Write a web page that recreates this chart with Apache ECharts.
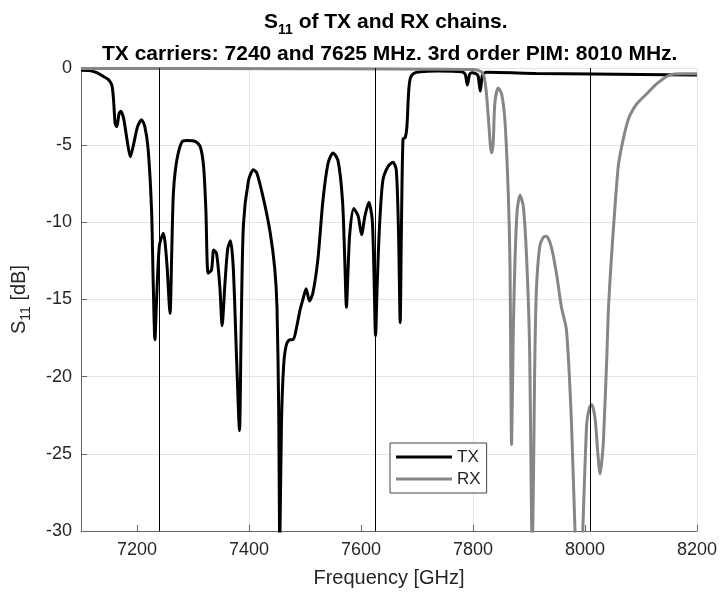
<!DOCTYPE html>
<html>
<head>
<meta charset="utf-8">
<title>S11 of TX and RX chains</title>
<script src="https://cdn.jsdelivr.net/npm/echarts@6/dist/echarts.min.js"></script>
<style>
  html, body { margin: 0; padding: 0; background: #fff; }
  #chart-container { width: 720px; height: 594px; }
</style>
</head>
<body>
<div id="chart-container"></div>
<script>
// values (MHz, dB)
var txFreq = [7100, 7115, 7128, 7140, 7149, 7155, 7158, 7161, 7164, 7168, 7171, 7176, 7182, 7188, 7193, 7201, 7208, 7214, 7220, 7226,
  7229, 7232, 7235, 7240, 7247, 7253, 7259, 7262, 7265, 7271, 7280, 7289, 7304, 7313, 7319, 7323, 7327, 7333, 7337, 7342,
  7348, 7352, 7357, 7362, 7367, 7372, 7378, 7383, 7386, 7390, 7399, 7408, 7414, 7426, 7438, 7446, 7450, 7453, 7455, 7458,
  7462, 7467, 7473, 7479, 7485, 7491, 7497, 7502, 7508, 7514, 7523, 7532, 7541, 7550, 7559, 7567, 7571, 7574, 7577, 7580,
  7587, 7595, 7601, 7607, 7614, 7620, 7623, 7626, 7629, 7633, 7639, 7648, 7657, 7663, 7667, 7670, 7672, 7675, 7679, 7682,
  7685, 7688, 7694, 7706, 7736, 7780, 7786, 7790, 7794, 7798, 7804, 7809, 7813, 7817, 7824, 7913, 8013, 8100, 8200];
var txS11 = [-0.15, -0.17, -0.3, -0.55, -0.75, -1.1, -2.0, -3.6, -3.8, -2.95, -2.8, -3.25, -4.6, -5.75, -5.1, -3.8, -3.35, -3.8, -5.3, -9.2,
  -14, -17.6, -15, -11.5, -10.7, -12.5, -15.9, -12, -8.1, -6.0, -4.8, -4.7, -4.75, -5.1, -6.4, -9.2, -13.3, -13.1, -11.8, -12.0,
  -14.2, -16.7, -14, -11.7, -11.2, -13, -19, -23.5, -17, -10.2, -7.3, -6.6, -6.8, -8.5, -10.7, -13, -15.5, -22, -31, -23,
  -19.2, -17.9, -17.6, -17.6, -16.8, -15.7, -14.9, -14.3, -15.1, -14.6, -12.4, -8.6, -6.2, -5.5, -6.0, -8.6, -12.4, -15.5, -13, -10.7,
  -9.1, -9.6, -10.8, -9.6, -8.7, -9.8, -13, -17.35, -14, -10.3, -7.3, -6.4, -6.1, -6.6, -10.6, -16.5, -11, -4.6, -4.5, -3.8,
  -1.6, -0.67, -0.35, -0.24, -0.2, -0.24, -0.4, -1.1, -0.4, -0.3, -0.35, -0.5, -1.5, -0.45, -0.28, -0.35, -0.39, -0.42, -0.45];

var rxFreq = [7100, 7500, 7800, 7815, 7820, 7824, 7828, 7831, 7833, 7836, 7839, 7845, 7851, 7857, 7863, 7866, 7869, 7872, 7875, 7879,
  7884, 7890, 7896, 7901, 7906, 7910, 7913, 7919, 7925, 7931, 7940, 7949, 7958, 7967, 7976, 7984, 7989, 7994, 8003, 8008,
  8012, 8018, 8023, 8027, 8030, 8033, 8039, 8042, 8047, 8051, 8056, 8060, 8065, 8069, 8075, 8081, 8093, 8111, 8129, 8152,
  8175, 8200];
var rxS11 = [-0.03, -0.05, -0.1, -0.25, -0.6, -1.65, -3.5, -5.0, -5.5, -4.9, -2.3, -1.3, -1.65, -3.4, -8.1, -12.5, -24.4, -17, -12.5, -9.2,
  -8.25, -9.0, -12.5, -18, -32, -20, -14.6, -11.6, -11.0, -10.9, -11.6, -13.3, -15.5, -17.0, -23.1, -32, -35, -32, -23.1, -22.0,
  -21.8, -22.7, -25, -26.3, -25.5, -24.1, -18.7, -15.5, -12.4, -10.3, -7.8, -6.2, -5.2, -4.5, -3.6, -3.0, -2.3, -1.65, -1.0, -0.45,
  -0.38, -0.38];

var carrierLines = [7240, 7625, 8010];   // TX carriers and 3rd order PIM
var xTickValues = [7200, 7400, 7600, 7800, 8000, 8200];

function pairs(f, v) {
  return f.map(function (x, i) { return [x, v[i]]; });
}

var font = 'Liberation Sans, Arial, Helvetica, sans-serif';
var textColor = '#262626';

var dom = document.getElementById('chart-container');
var myChart = echarts.init(dom, null, { renderer: 'canvas' });

var option = {
  animation: false,
  backgroundColor: '#fff',
  title: [
    {
      text: '{a|S}{b|11}{a| of TX and RX chains.}',
      left: 259,
      top: 2,
      textStyle: {
        rich: {
          a: { fontSize: 21, fontWeight: 'bold', fontFamily: font, color: '#000', lineHeight: 30, verticalAlign: 'middle' },
          b: { fontSize: 14, fontWeight: 'bold', fontFamily: font, color: '#000', lineHeight: 14, verticalAlign: 'bottom' }
        }
      }
    },
    {
      text: 'TX carriers: 7240 and 7625 MHz. 3rd order PIM: 8010 MHz.',
      left: 97,
      top: 39,
      textStyle: { fontSize: 21, fontWeight: 'bold', fontFamily: font, color: '#000' }
    }
  ],
  legend: {
    data: ['TX', 'RX'],
    orient: 'vertical',
    left: 390,
    top: 443,
    padding: [4, 6, 4, 6],
    itemGap: 2,
    itemWidth: 56,
    itemHeight: 3,
    icon: 'rect',
    borderColor: '#444',
    borderWidth: 1,
    backgroundColor: '#fff',
    textStyle: { fontSize: 17, fontFamily: font, color: textColor, lineHeight: 20 }
  },
  grid: { left: 81, right: 22, top: 68, bottom: 63, containLabel: false },
  xAxis: {
    type: 'value',
    min: 7100,
    max: 8200,
    interval: 100,
    name: 'Frequency [GHz]',
    nameLocation: 'middle',
    nameGap: 37,
    nameTextStyle: { fontSize: 20, fontFamily: font, color: textColor },
    axisLine: { show: true, onZero: false, lineStyle: { color: '#666', width: 1 } },
    axisTick: { show: true, inside: true, length: 6, customValues: xTickValues, lineStyle: { color: '#666' } },
    axisLabel: {
      fontSize: 18, fontFamily: font, color: textColor, margin: 10,
      customValues: xTickValues,
      formatter: function (v) { return v % 200 === 0 ? String(v) : ''; }
    },
    splitLine: { show: true, lineStyle: { color: ['rgba(0,0,0,0)', '#e3e3e3'], width: 1 } }
  },
  yAxis: {
    type: 'value',
    min: -30,
    max: 0,
    interval: 5,
    name: '{n|S}{s|11}{n| [dB]}',
    nameLocation: 'middle',
    nameGap: 48,
    nameTextStyle: {
      rich: {
        n: { fontSize: 20, fontFamily: font, color: textColor, lineHeight: 28, verticalAlign: 'middle' },
        s: { fontSize: 14, fontFamily: font, color: textColor, lineHeight: 14, verticalAlign: 'bottom' }
      }
    },
    axisLine: { show: true, lineStyle: { color: '#666', width: 1 } },
    axisTick: { show: true, inside: true, length: 6, lineStyle: { color: '#666' } },
    axisLabel: { fontSize: 18, fontFamily: font, color: textColor, margin: 9 },
    splitLine: { show: true, lineStyle: { color: '#e3e3e3', width: 1 } }
  },
  series: [
    {
      name: 'TX',
      type: 'line',
      data: pairs(txFreq, txS11),
      showSymbol: false,
      smooth: 0.25,
      clip: true,
      color: '#000',
      lineStyle: { color: '#000', width: 3 },
      markLine: {
        silent: true,
        symbol: ['none', 'none'],
        label: { show: false },
        lineStyle: { color: '#000', width: 1, type: 'solid' },
        data: carrierLines.map(function (f) { return { xAxis: f }; })
      }
    },
    {
      name: 'RX',
      type: 'line',
      data: pairs(rxFreq, rxS11),
      showSymbol: false,
      smooth: 0.25,
      clip: true,
      color: '#868686',
      lineStyle: { color: '#868686', width: 3 }
    }
  ]
};

myChart.setOption(option);
window.addEventListener('resize', myChart.resize);
</script>
</body>
</html>
